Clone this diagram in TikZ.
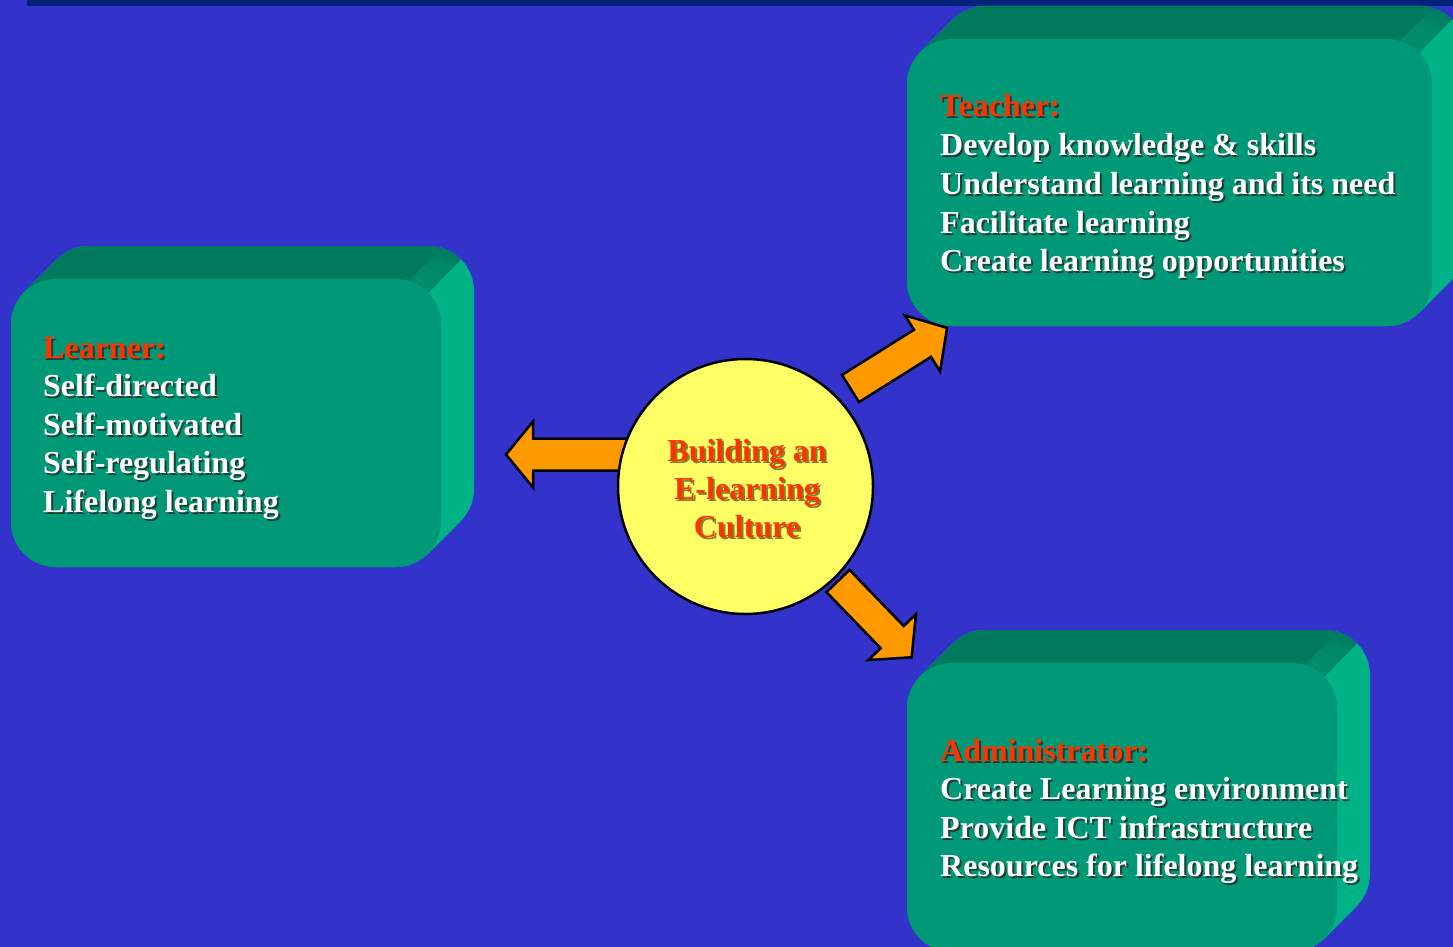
\documentclass[tikz,border=0pt]{standalone}
\usepackage{fontspec}
\setmainfont{Liberation Serif}
\definecolor{bgblue}{RGB}{51,51,204}
\definecolor{barblue}{RGB}{0,34,120}
\definecolor{frontcol}{RGB}{0,153,119}
\definecolor{topcol}{RGB}{0,122,95}
\definecolor{sidecol}{RGB}{0,179,134}
\definecolor{titlered}{RGB}{255,51,0}
\definecolor{hubyellow}{RGB}{255,255,102}
\definecolor{arroworange}{RGB}{255,153,0}
\tikzset{
  txt/.style={anchor=base west, inner sep=0pt, font=\bfseries\fontsize{32}{38}\selectfont},
  ctxt/.style={anchor=base, inner sep=0pt, font=\bfseries\fontsize{32}{38}\selectfont},
  arrowst/.style={fill=arroworange, draw=black, line width=2.5pt, line join=miter},
  hubst/.style={circle, fill=hubyellow, draw=black, line width=2.5pt, minimum size=255pt, inner sep=0pt}
}
% 3D rounded box: front xL yT xR yB
\newcommand\threedbox[4]{%
  \foreach \t in {0,1,...,33} {\fill[sidecol, rounded corners=45pt] (#1+\t,#2-\t) rectangle (#3+\t,#4-\t);}
  \begin{scope}
    \clip ({#3+#2+1000},-1000) -- ({#3+#2-2000},2000) -- (-3000,2000) -- (-3000,-1000) -- cycle;
    \foreach \t in {0,1,...,33} {\fill[topcol, rounded corners=45pt] (#1+\t,#2-\t) rectangle (#3+\t,#4-\t);}
  \end{scope}
  \begin{scope}
    \clip ({#3+#2+1000},-1000) -- ({#3+#2-2000},2000) -- ({#3+#2-2030},2000) -- ({#3+#2+970},-1000) -- cycle;
    \foreach \t in {0,2,...,32} {\fill[topcol!50!sidecol, opacity=0.12, rounded corners=45pt] (#1+\t,#2-\t) rectangle (#3+\t,#4-\t);}
  \end{scope}
  \fill[frontcol, rounded corners=45pt] (#1,#2) rectangle (#3,#4);
}
% shadowed line: name x y colour text
\newcommand\sline[5]{%
  \node[txt, text=black!85, opacity=0.8] (#1s) at (#2+2,#3+2) {#5};
  \node[txt, text=#4] (#1) at (#2,#3) {#5};
}
\newcommand\hubline[4]{%
  \node[ctxt, text=black!70!hubyellow, opacity=0.7] (#1s) at (#2+2,#3+2) {#4};
  \node[ctxt, text=titlered] (#1) at (#2,#3) {#4};
}
\newcommand\blockarrow[5]{% x y angle L headlen
  \draw[arrowst, shift={(#1,#2)}, rotate=#3] (0,-16) -- ({#4-#5},-16) -- ({#4-#5},-33) -- (#4,0) -- ({#4-#5},33) -- ({#4-#5},16) -- (0,16) -- cycle;
}
\begin{document}
\begin{tikzpicture}[x=1pt,y=-1pt]
\useasboundingbox (0,0) rectangle (1453,947);
\fill[bgblue] (0,0) rectangle (1453,947);
\fill[barblue] (27,0) rectangle (1453,6);

% boxes
\threedbox{11}{279}{441}{567}
\threedbox{907}{39}{1432}{326}
\threedbox{907}{663}{1337}{952}

% learner text
\sline{l0}{43}{358}{titlered}{Learner:}
\sline{l1}{43}{396.5}{white}{Self-directed}
\sline{l2}{43}{435}{white}{Self-motivated}
\sline{l3}{43}{473.5}{white}{Self-regulating}
\sline{l4}{43}{512}{white}{Lifelong learning}

% teacher text
\sline{t0}{940}{117}{titlered}{Teacher:}
\sline{t1}{940}{155.7}{white}{Develop knowledge \& skills}
\sline{t2}{940}{194.4}{white}{Understand learning and its need}
\sline{t3}{940}{233.1}{white}{Facilitate learning}
\sline{t4}{940}{271.8}{white}{Create learning opportunities}

% administrator text
\sline{a0}{940}{761.5}{titlered}{Administrator:}
\sline{a1}{940}{799.9}{white}{Create Learning environment}
\sline{a2}{940}{838.3}{white}{Provide ICT infrastructure}
\sline{a3}{940}{876.7}{white}{Resources for lifelong learning}

% arrows
\blockarrow{645}{454.5}{180}{139}{27}
\blockarrow{850.5}{388.5}{32.1}{114}{29}
\blockarrow{838}{581}{-46}{106}{28}

% hub
\node[hubst] (hub) at (745.5,486.5) {};
\hubline{c1}{747}{461.5}{Building an}
\hubline{c2}{747}{499.5}{E-learning}
\hubline{c3}{747}{537.5}{Culture}
\end{tikzpicture}
\end{document}
